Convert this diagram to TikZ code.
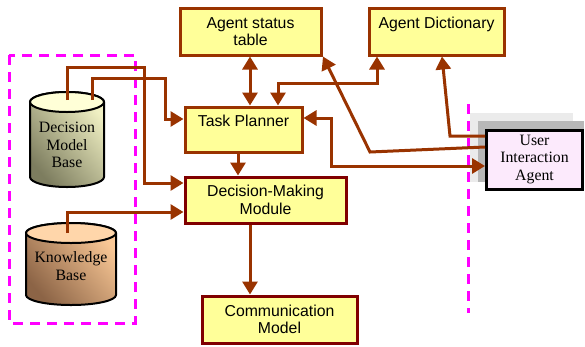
\documentclass[tikz,border=0pt]{standalone}
\usepackage{fontspec}
\setmainfont{Liberation Serif}
\newfontfamily\arialf{Liberation Sans}
\usetikzlibrary{arrows.meta,calc}
\definecolor{arr}{RGB}{153,51,0}
\definecolor{boxfill}{RGB}{255,255,153}
\definecolor{darkred}{RGB}{128,0,0}
\definecolor{uiafill}{RGB}{252,234,252}
\definecolor{dmbtop}{RGB}{255,255,215}
\definecolor{dmblight}{RGB}{240,240,195}
\definecolor{dmbdark}{RGB}{125,125,95}
\definecolor{kbtop}{RGB}{255,214,170}
\definecolor{kblight}{RGB}{250,200,150}
\definecolor{kbdark}{RGB}{140,100,70}
\definecolor{magline}{RGB}{255,0,255}
\begin{document}
\begin{tikzpicture}[x=1pt,y=1pt,
  conn/.style={draw=arr, line width=3pt, -{Triangle[length=13pt,width=15pt]}},
  dconn/.style={draw=arr, line width=3pt, {Triangle[length=13pt,width=15pt]}-{Triangle[length=13pt,width=15pt]}},
  sbox/.style={draw=arr, fill=boxfill, line width=3pt, align=center, inner sep=0pt,
    font=\arialf\fontsize{15.8}{17.5}\selectfont},
  rbox/.style={sbox, draw=darkred},
  serift/.style={align=center, inner sep=0pt, font=\fontsize{15.8}{17.5}\selectfont},
  magdash/.style={draw=magline, line width=3pt, dash pattern=on 10pt off 7pt}
]
\useasboundingbox (0,0) rectangle (585,-346);

% dashed magenta group
\draw[magdash] (9,-55) rectangle (135,-323);
\draw[magdash] (468,-104) -- (468,-313);

% Decision Model Base cylinder
\shade[top color=dmblight, bottom color=dmbdark, shading angle=-50, draw=black, line width=2pt]
  (30,-102) -- (30,-177) arc[start angle=180, end angle=360, x radius=37, y radius=10]
  -- (104,-102) arc[start angle=0, end angle=180, x radius=37, y radius=10] -- cycle;
\draw[fill=dmbtop, line width=2pt] (67,-102) ellipse[x radius=37, y radius=10];
\node[serift] (dmb) at (67,-145) {Decision\\Model\\Base};
\coordinate (dmbA) at (67,-100);
\coordinate (dmbB) at (92,-100);

% Knowledge Base cylinder
\shade[top color=kblight, bottom color=kbdark, shading angle=-50, draw=black, line width=2pt]
  (26,-233) -- (26,-295) arc[start angle=180, end angle=360, x radius=45, y radius=10]
  -- (116,-233) arc[start angle=0, end angle=180, x radius=45, y radius=10] -- cycle;
\draw[fill=kbtop, line width=2pt] (71,-233) ellipse[x radius=45, y radius=10];
\node[serift] (kb) at (71,-266) {Knowledge\\Base};
\coordinate (kbA) at (67,-233);

% boxes
\node[sbox, minimum width=141pt, minimum height=47pt] (ast) at (250.5,-31.5) {Agent status\\table};
\node[sbox, minimum width=135pt, minimum height=47pt] (ad) at (436.5,-31.5) {Agent Dictionary\\\mbox{}};
\node[sbox, minimum width=117pt, minimum height=45pt] (tp) at (243.5,-129.5) {Task Planner\\\mbox{}};
\node[rbox, minimum width=161pt, minimum height=46pt] (dmm) at (265.5,-200) {Decision-Making\\Module};
\node[rbox, minimum width=155pt, minimum height=47pt] (cm) at (279.5,-319.5) {Communication\\Model};

% User Interaction Agent with shadow
\fill[black!8] (470,-113) rectangle (573,-182);
\fill[black!28] (478,-121) rectangle (584,-182);
\node[draw=black, fill=uiafill, line width=3pt, minimum width=96pt, minimum height=59pt,
  serift] (uia) at (534.5,-159.5) {User\\Interaction\\Agent};

% connectors
\draw[conn] (dmbB) -- (92,-78) -- (165,-78) -- (165,-119) -- (tp.west |- 0,-119);
\draw[conn] (dmbA) -- (67,-67) -- (144,-67) -- (144,-183) -- (dmm.west |- 0,-183);
\draw[conn] (kbA) -- (67,-212) -- (dmm.west |- 0,-212);
\draw[dconn] (ast.south -| 250,0) -- (tp.north -| 250,0);
\draw[dconn] (tp.north -| 278,0) -- (278,-83) -- (377,-83) -- (ad.south -| 377,0);
\draw[conn] (uia.west |- 0,-147) -- (370,-152) -- (ast.south -| 323,0);
\draw[conn] (uia.west |- 0,-136) -- (450,-136) -- (ad.south -| 442,0);
\draw[dconn] (tp.east |- 0,-118) -- (331,-118) -- (331,-166) -- (uia.west |- 0,-166);
\draw[conn] (tp.south -| 238,0) -- (dmm.north -| 238,0);
\draw[conn] (dmm.south -| 250,0) -- (cm.north -| 250,0);
\end{tikzpicture}
\end{document}
